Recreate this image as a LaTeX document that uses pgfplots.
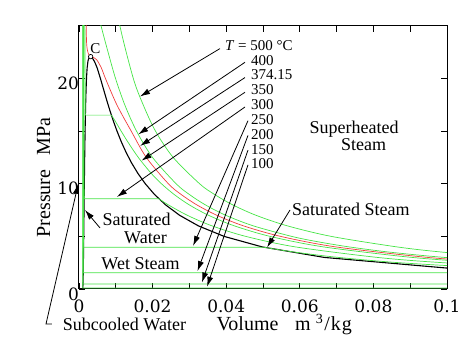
\documentclass[border=0pt]{standalone}
\usepackage{fontspec}
\setmainfont{Liberation Serif}
\newfontfamily\tickfont{DejaVu Serif}
\usepackage{pgfplots}
\pgfplotsset{compat=1.18}
\usetikzlibrary{arrows.meta}
\definecolor{iso}{RGB}{70,228,70}
\definecolor{crit}{RGB}{240,60,60}

\begin{document}
\begin{tikzpicture}[
  arr/.style={-{Latex[length=10pt,width=6pt]}, line width=0.8pt, black},
  big/.style={font=\fontsize{18}{20}\selectfont, inner sep=0pt, anchor=base},
  tl/.style={font=\fontsize{15}{17}\selectfont, inner sep=0pt, anchor=base west},
]
\begin{axis}[
  width=368pt, height=263pt, scale only axis,
  xmin=0, xmax=0.1, ymin=0, ymax=25,
  clip mode=individual,
  axis line style={line width=1pt},
  tick align=inside, major tick length=6pt,
  tick style={black, line width=0.8pt},
  xtick={0,0.01,0.02,0.03,0.04,0.05,0.06,0.07,0.08,0.09,0.1},
  xticklabels={0,,0.02,,0.04,,0.06,,0.08,,0.1},
  ytick={0,5,10,15,20},
  yticklabels={0,,10,,20},
  scaled ticks=false,
  tick label style={font=\tickfont\fontsize{17}{19}\selectfont},
  xticklabel style={yshift=-7pt},
  yticklabel style={xshift=3.5pt, yshift=-5pt},
]
% saturation dome
\addplot[black, line width=1.1pt] coordinates {
(0.0010002,0.0006) (0.001044,0.1014) (0.001091,0.476) (0.001157,1.554) (0.001252,3.973)
(0.001286,5) (0.001319,6) (0.001352,7) (0.001384,8) (0.001418,9) (0.001452,10)
(0.001527,12) (0.001611,14) (0.001658,15) (0.001711,16) (0.001770,17) (0.001840,18)
(0.001924,19) (0.002036,20) (0.002207,21) (0.00245,21.7) (0.002750,22) (0.00317,22.09)
(0.003568,22) (0.00425,21.6) (0.004953,21) (0.005834,20) (0.006657,19) (0.007489,18)
(0.008364,17) (0.009306,16) (0.010337,15) (0.011485,14) (0.012780,13) (0.014263,12)
(0.015987,11) (0.018026,10) (0.02048,9) (0.02352,8) (0.02737,7) (0.03244,6)
(0.03944,5) (0.04978,4) (0.06668,3) (0.09963,2) (0.12736,1.554)
};
% 500 C
\addplot[iso, line width=0.7pt, smooth] coordinates {
(0.13998,2.5) (0.11619,3) (0.0989,3.5) (0.08643,4) (0.06857,5) (0.05665,6) (0.04814,7)
(0.04175,8) (0.03677,9) (0.03279,10) (0.02560,12.5) (0.02080,15) (0.01745,17.5)
(0.01477,20) (0.011123,25) (0.008678,30)
};
% 400 C
\addplot[iso, line width=0.7pt, smooth] coordinates {
(0.1201,2.5) (0.09936,3) (0.08453,3.5) (0.07341,4) (0.06475,4.5) (0.05781,5) (0.04739,6)
(0.03993,7) (0.03432,8) (0.02993,9) (0.02641,10) (0.02,12.5) (0.015649,15) (0.012447,17.5)
(0.009942,20) (0.00791,22.5) (0.006004,25) (0.00428,27.5) (0.00279,30)
};
% 374.15 C (critical isotherm)
\addplot[crit, line width=0.7pt, smooth] coordinates {
(0.1147,2.5) (0.0948,3) (0.0698,4) (0.0548,5) (0.0447,6) (0.0375,7) (0.0320,8)
(0.0277,9) (0.0243,10) (0.0183,12.5) (0.0142,15) (0.0103,17.5) (0.0072,20)
(0.0061,21) (0.0048,21.8) (0.0040,22.0) (0.00317,22.09) (0.0025,22.4) (0.0021,23.2)
(0.00195,25) (0.00178,30)
};
% 350 C
\addplot[iso, line width=0.7pt] coordinates {
(0.001551,30) (0.001599,25) (0.001665,20) (0.001741,16.529) (0.008813,16.529)
};
\addplot[iso, line width=0.7pt, smooth] coordinates {
(0.008813,16.529) (0.00977,16) (0.01147,15) (0.01323,14) (0.01613,12.5) (0.01961,11)
(0.02242,10) (0.0258,9) (0.02995,8) (0.03524,7) (0.04223,6) (0.05194,5) (0.06645,4)
(0.09053,3) (0.10976,2.5)
};
% 300 C
\addplot[iso, line width=0.7pt] coordinates {
(0.0013304,30) (0.0013611,20) (0.0013972,10) (0.001404,8.581) (0.02167,8.581)
};
\addplot[iso, line width=0.7pt, smooth] coordinates {
(0.02167,8.581) (0.02426,8) (0.02947,7) (0.03616,6) (0.04532,5) (0.05884,4)
(0.08114,3) (0.0989,2.5) (0.12547,2)
};
% 250 C
\addplot[iso, line width=0.7pt] coordinates {
(0.0012009,30) (0.0012192,20) (0.0012387,10) (0.0012512,3.973) (0.05013,3.973)
};
\addplot[iso, line width=0.7pt, smooth] coordinates {
(0.05013,3.973) (0.05872,3.5) (0.07058,3) (0.087,2.5) (0.11144,2)
};
% 200 C
\addplot[iso, line width=0.7pt] coordinates {
(0.00113,30) (0.0011386,20) (0.001148,10) (0.0011565,1.5538) (0.12736,1.5538)
};
% 150 C
\addplot[iso, line width=0.7pt] coordinates {
(0.00108,30) (0.0010905,0.4758) (0.3928,0.4758)
};
% 100 C
\addplot[iso, line width=0.7pt] coordinates {
(0.00103,30) (0.001044,0.1014) (1.6729,0.1014)
};
% critical point
\addplot[only marks, mark=*, mark size=2.2pt, mark options={fill=white, draw=black, line width=0.7pt}] coordinates {(0.00317,22.09)};

% labels
\node[font=\fontsize{15}{17}\selectfont, inner sep=0pt, anchor=base] at (axis cs:0.00448,22.43) {C};
\node[tl] at (axis cs:0.03967,22.65) {\textit{T} = 500 °C};
\node[tl] at (axis cs:0.04674,21.29) {400};
\node[tl] at (axis cs:0.04674,19.88) {374.15};
\node[tl] at (axis cs:0.04674,18.47) {350};
\node[tl] at (axis cs:0.04674,17.06) {300};
\node[tl] at (axis cs:0.04674,15.65) {250};
\node[tl] at (axis cs:0.04674,14.23) {200};
\node[tl] at (axis cs:0.04674,12.82) {150};
\node[tl] at (axis cs:0.04674,11.41) {100};

\draw[arr] (axis cs:0.0383,22.85) -- (axis cs:0.0166,18.3);
\draw[arr] (axis cs:0.04511,21.55) -- (axis cs:0.0161,14.7);
\draw[arr] (axis cs:0.04511,20.10) -- (axis cs:0.0166,13.6);
\draw[arr] (axis cs:0.04511,18.70) -- (axis cs:0.0170,12.2);
\draw[arr] (axis cs:0.04511,17.30) -- (axis cs:0.0103,8.75);
\draw[arr] (axis cs:0.04592,16.0) -- (axis cs:0.0310,4.10);
\draw[arr] (axis cs:0.04592,14.6) -- (axis cs:0.0322,1.70);
\draw[arr] (axis cs:0.04592,13.2) -- (axis cs:0.0334,0.62);
\draw[arr] (axis cs:0.04592,11.8) -- (axis cs:0.0348,0.22);

\node[big] at (axis cs:0.07473,14.80) {Superheated};
\node[big] at (axis cs:0.07731,13.21) {Steam};
\node[big, anchor=base west] at (axis cs:0.05788,7.03) {Saturated Steam};
\draw[arr] (axis cs:0.05734,7.51) -- (axis cs:0.0511,3.95);
\node[big] at (axis cs:0.01563,6.02) {Saturated};
\node[big] at (axis cs:0.01807,4.34) {Water};
\draw[arr] (axis cs:0.00571,5.80) -- (axis cs:0.00163,7.51);
\node[big] at (axis cs:0.01671,1.81) {Wet Steam};
\node[big] at (axis cs:0.01236,-3.99) {Subcooled Water};
\draw[arr] (axis cs:-0.00734,-3.33) -- (axis cs:-0.00897,-3.33) -- (axis cs:-0.0002,10.0);

% axis labels
\node[font=\fontsize{20}{22}\selectfont, inner sep=0pt, anchor=base] at (axis cs:0.04579,-3.96) {Volume};
\node[font=\fontsize{20}{22}\selectfont, inner sep=0pt, anchor=base west] at (axis cs:0.0587,-3.96) {m\hspace{5pt}\textsuperscript{3}\hspace{1pt}/\hspace{1pt}k\hspace{1pt}g};
\node[font=\fontsize{20}{22}\selectfont, inner sep=0pt, anchor=base, rotate=90] at (axis cs:-0.00788,10.6) {Pressure\hspace{14pt}MPa};
\end{axis}
\pgfresetboundingbox
\path[use as bounding box] (-79pt,-66pt) rectangle (395pt,289pt);
\end{tikzpicture}
\end{document}
